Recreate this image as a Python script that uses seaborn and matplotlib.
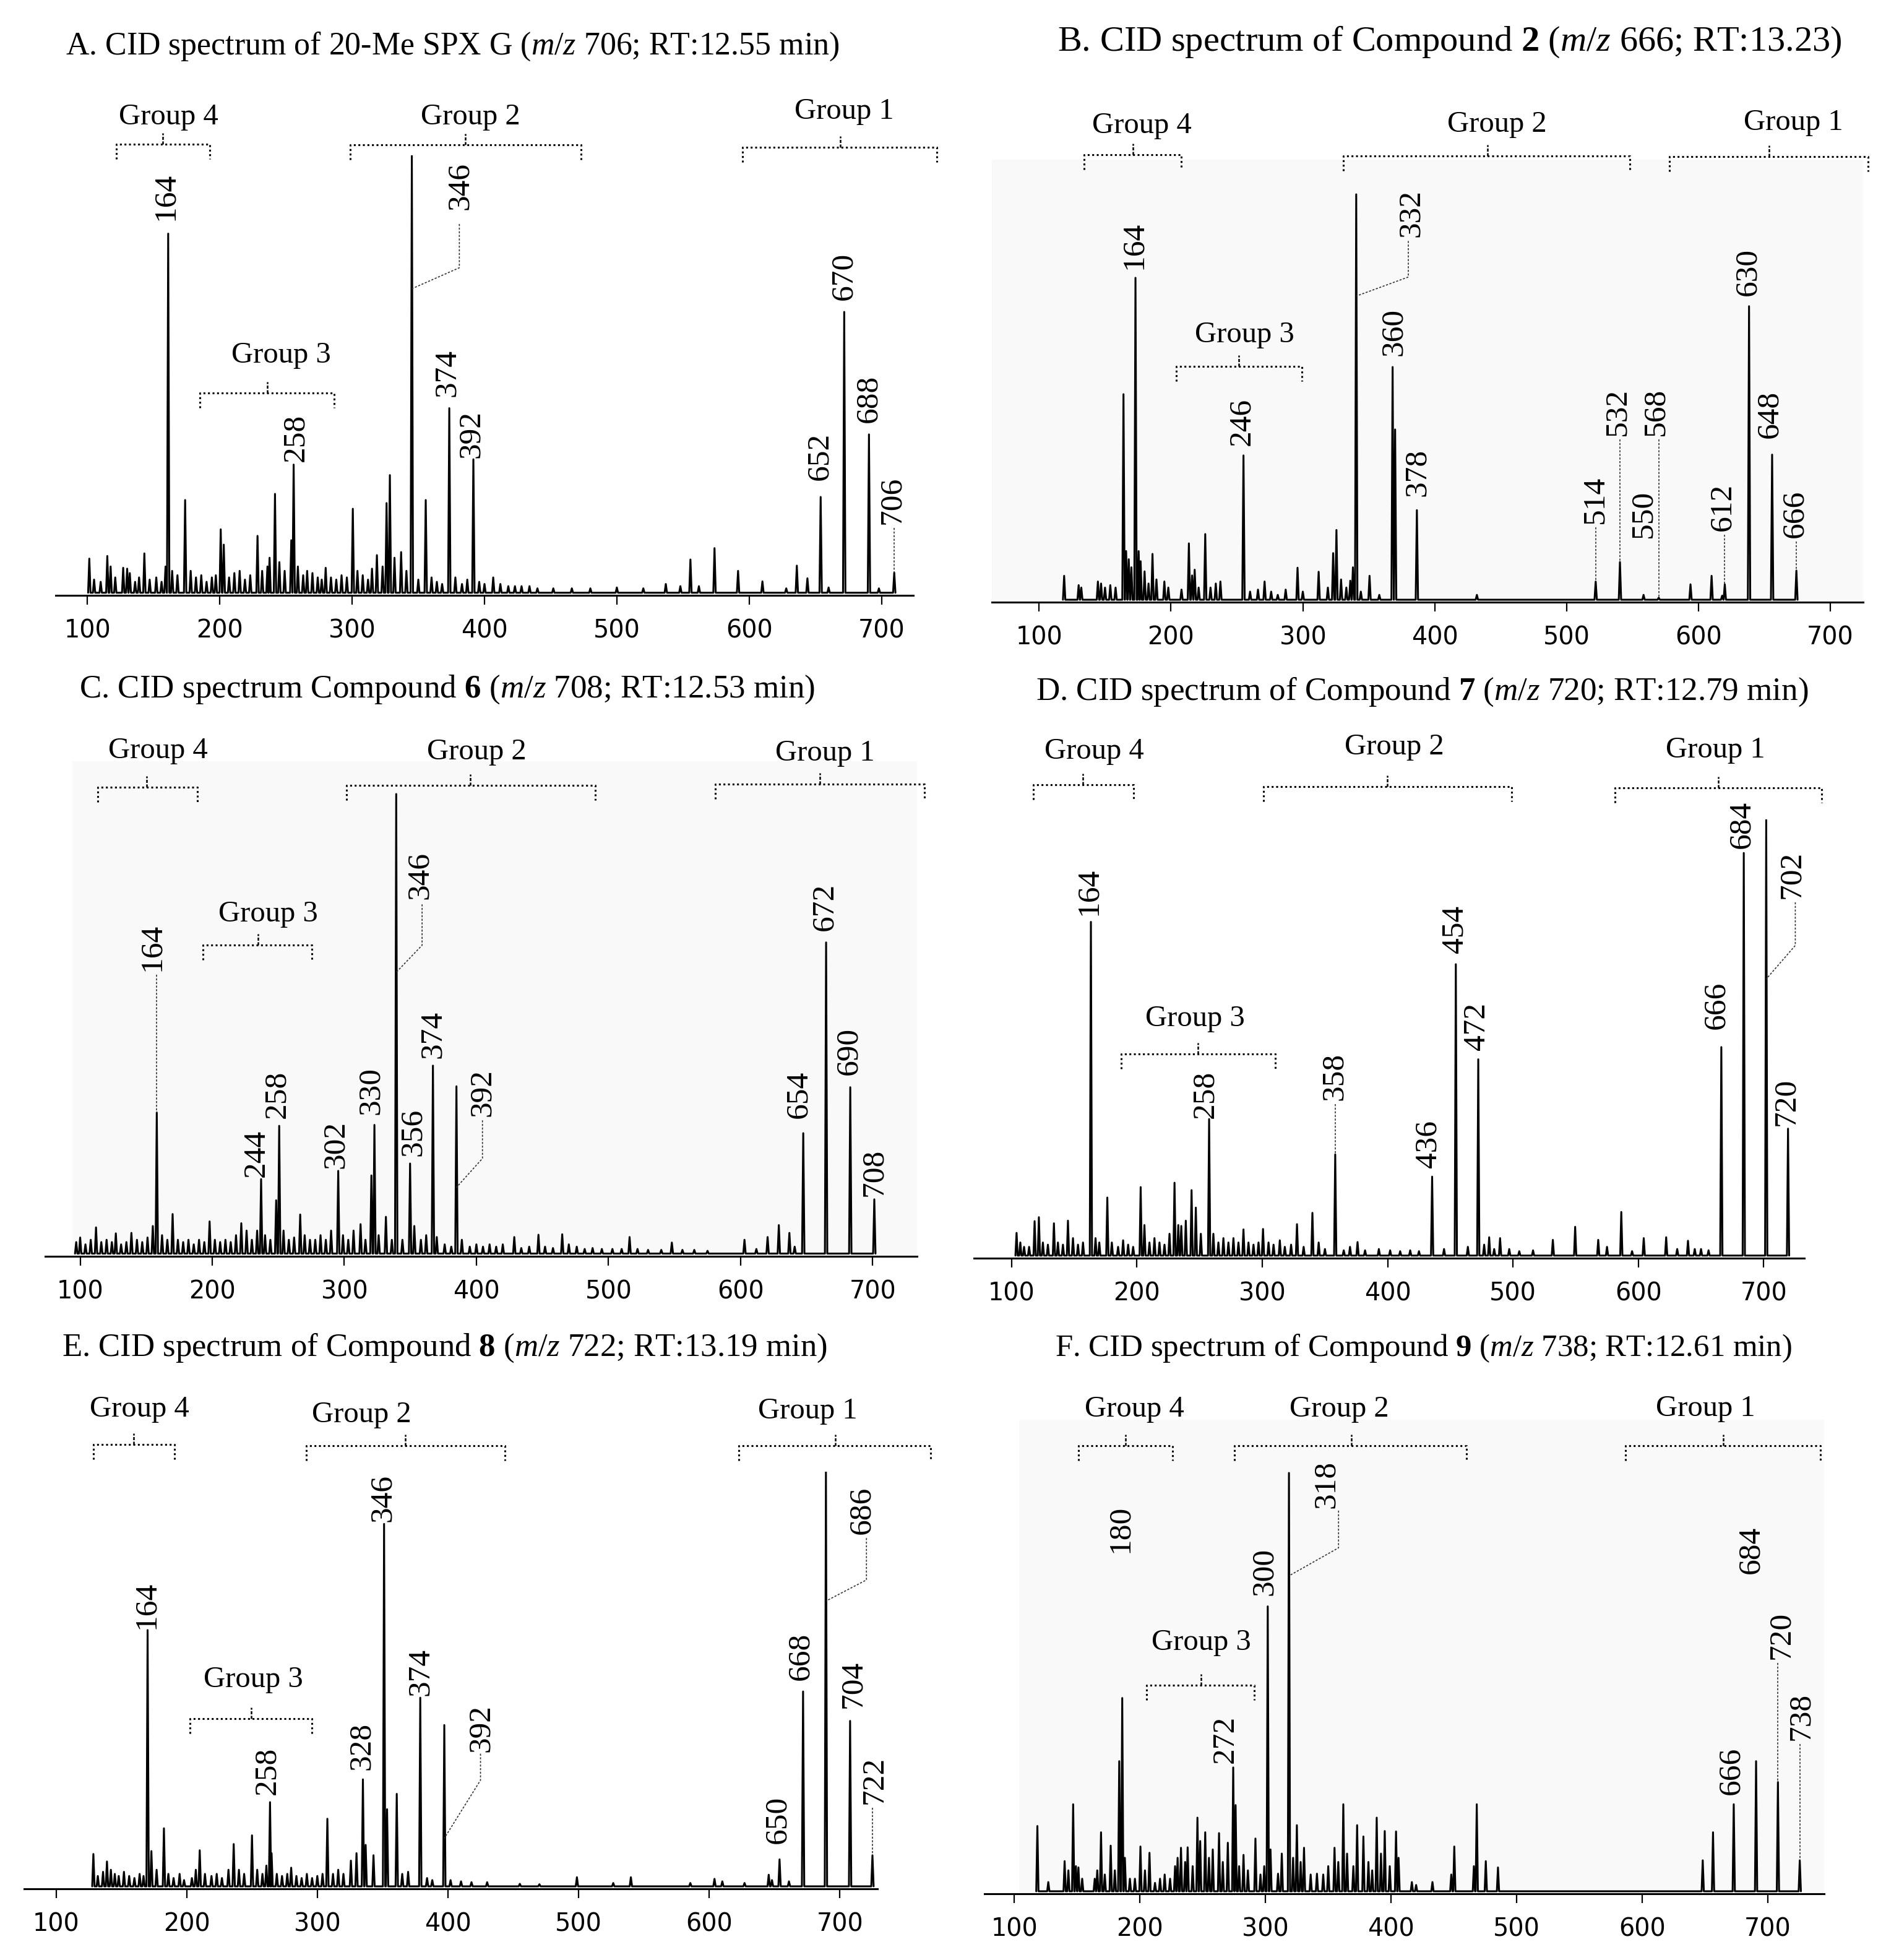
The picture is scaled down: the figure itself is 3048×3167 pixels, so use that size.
import numpy as np
import pandas as pd
import matplotlib
matplotlib.use("Agg")
import matplotlib.pyplot as plt
import seaborn as sns

# ---------------- data ----------------
# labelled peaks: m/z position (as drawn), relative intensity (% of base peak), label text
a_labels = ["164", "258", "346", "374", "392", "652", "670", "688", "706"]
a_lab_mz = [161.0, 255.8, 345.1, 373.4, 391.6, 654.0, 671.8, 690.5, 709.6]
a_lab_int = [82.1, 29.3, 100, 42.2, 30.5, 21.9, 64.2, 36.2, 4.6]
a_minor_mz = [101.4, 105, 110, 115, 117.5, 121, 127, 130, 132, 136, 139, 143, 147, 152, 156, 159, 164, 168,
              173.8, 178, 182, 186, 190, 194, 197, 200.7, 203, 207, 211, 215, 219, 223, 228.5, 232, 236, 237.6,
              241.7, 245, 249, 254, 259, 263, 266, 270, 274, 277, 280, 284, 288, 292, 296, 300.5, 304, 308,
              312, 315, 318.7, 323, 326, 328.5, 332, 337, 341, 350, 355.6, 360, 364, 368, 378, 383, 387, 396,
              400, 406.6, 412, 418, 423, 428, 434, 440, 452, 466, 480, 500, 520, 537, 548, 555.6, 562, 573.8,
              591.6, 610, 628, 636, 644, 660, 698]
a_minor_int = [7.8, 3, 2.5, 8.4, 6, 3.5, 5.7, 5.5, 4.5, 2.5, 3.5, 9.0, 3, 3.5, 2.5, 6, 5, 4,
               21.2, 5, 3.5, 4, 2.5, 3.5, 4, 14.5, 11, 3.5, 4.5, 5, 3, 4, 13.0, 5, 6, 8.0,
               22.6, 7, 5, 12, 6, 4, 5, 4.5, 3.5, 3, 5.7, 3.5, 3, 4, 3.5, 19.2, 5, 4,
               3, 5.5, 8.6, 6, 20.5, 26.9, 8, 9.3, 5, 3, 21.2, 3.5, 2.5, 2, 3.5, 2, 3, 2.5,
               2, 3.5, 2, 1.5, 1.5, 1.5, 1.5, 1, 1, 1, 1, 1.2, 1, 2, 1.5, 7.6, 1.5, 10.2,
               5.0, 2.6, 1, 6.2, 3.3, 1.2, 1]

b_labels = ["164", "246", "332", "360", "378", "514", "532", "550", "568", "612", "630", "648", "666"]
b_lab_mz = [173.1, 255.0, 340.5, 368.1, 386.5, 522.1, 540.5, 558.4, 569.9, 620.0, 638.4, 655.9, 674.3]
b_lab_int = [79.4, 35.6, 100, 57.4, 22.1, 4.5, 9.3, 1.2, 0.5, 3.8, 72.4, 35.8, 7.2]
b_minor_mz = [119, 130, 132, 144.6, 147, 150, 154, 158, 164, 166, 168, 170, 175.5, 177, 180, 183, 186, 189,
              195, 198, 208, 213.6, 216, 218, 221, 226, 230, 234, 237.5, 260, 266, 271, 276, 281, 287, 296,
              300, 312, 319, 323, 325.5, 329, 333, 336, 338, 344, 350.6, 358, 370, 432, 594, 610, 618]
b_minor_int = [5.9, 3.6, 3, 4.5, 4, 3, 3.6, 3, 50.7, 12, 10, 8, 12, 9.5, 7, 4, 11.3, 5,
               4.5, 3, 2.5, 13.9, 6, 7.4, 3, 16.2, 3, 4, 4.5, 2, 2.5, 4.5, 2, 1.2, 2.5, 7.9,
               2, 6.9, 3, 11.5, 17.2, 5, 3, 4.7, 8, 2, 5.9, 1.2, 42, 1.2, 3.8, 5.9, 1]

c_labels = ["164", "244", "258", "302", "330", "346", "356", "374", "392", "654", "672", "690", "708"]
c_lab_mz = [158.0, 237.0, 250.7, 295.4, 322.8, 339.3, 349.8, 367.1, 384.9, 647.5, 664.8, 683.1, 701.3]
c_lab_int = [30.7, 16.2, 27.8, 18.0, 28.0, 100, 19.6, 40.9, 36.4, 26.2, 67.7, 36.2, 11.8]
c_minor_mz = [97, 100, 104, 108, 112, 116, 120, 124, 127, 131, 135, 138.8, 143, 147, 151, 155, 162, 166,
              170, 174, 178, 182, 186, 190, 194, 198, 202, 206, 210, 214, 218, 222, 226, 230, 234, 240, 244,
              248.4, 254, 258, 262, 266.6, 270, 274, 278, 282, 286, 290, 299, 303, 307, 312.3, 316, 320.5,
              326, 331.5, 336, 344, 353, 358, 362, 370, 376, 381, 389, 395, 400, 405, 410, 415, 420, 428.7,
              434, 440, 447, 452, 458, 465, 470, 476, 482, 488, 495, 503, 510, 516, 522, 530, 540, 548, 556,
              565, 575, 603, 612, 620.5, 629, 637, 641]
c_minor_int = [2.5, 3.5, 2, 3, 5.7, 2.5, 3, 2.5, 4.4, 2, 2.5, 4.5, 3, 2.5, 3.5, 6, 4, 3,
               8.6, 3, 2.5, 3, 2, 3, 2.5, 7.0, 3, 2.5, 3, 2.5, 4, 6.6, 5, 3, 5, 4, 3,
               11.6, 5, 3, 3.5, 8.5, 4, 3, 3, 4, 3, 5, 4, 3, 5, 6.4, 3, 17.0,
               4, 8.0, 3, 3, 6, 3, 4, 3.6, 2, 1.5, 3, 1.5, 2, 1.5, 2, 1.5, 2, 3.6,
               1.2, 1.5, 4.1, 1.5, 1.2, 4.2, 2, 1.5, 1, 1.2, 1, 1, 1, 3.6, 1, 0.8, 0.8, 2.4, 0.8,
               0.8, 0.6, 3.0, 1, 3.6, 6.2, 4.5, 1.5]

d_labels = ["164", "258", "358", "436", "454", "472", "666", "684", "702", "720"]
d_lab_mz = [163.3, 257.6, 358.2, 435.5, 454.4, 472.3, 666.2, 684.1, 702.0, 719.4]
d_lab_int = [76.5, 31.3, 23.2, 18.1, 66.8, 45.0, 47.8, 92.3, 100, 29.1]
d_minor_mz = [104, 107, 110, 114, 118.4, 121.8, 125, 129, 133.8, 137, 141, 145, 149, 153, 157, 167, 170,
              176.4, 180, 185, 189, 193, 197, 203, 206, 210, 214, 218, 222, 226, 230, 233, 235.4, 239,
              243.6, 247, 251, 261, 265, 269, 273, 277, 281, 285, 289, 293, 297, 300.6, 305, 309, 314,
              318, 323, 327.7, 333, 340, 345, 350, 365, 370, 376, 382, 393, 402, 410, 418, 425, 445,
              464, 477, 481, 485, 489.7, 497, 505, 516, 531.8, 549.6, 568, 575, 586.4, 595, 604.3,
              622.2, 631, 639.6, 645, 650, 656]
d_minor_int = [5.2, 3, 2, 2, 7.9, 8.8, 3, 2.5, 7.4, 3, 2.5, 8.0, 4, 2.5, 3, 4, 3,
               13.3, 3, 2, 3.5, 2.5, 2, 15.7, 7, 3, 4, 3, 2.5, 5, 16.7, 7, 6.8, 8,
               15.0, 11, 5, 5, 3, 4, 3, 4, 3, 6.0, 3, 2.5, 3, 6.1, 3, 2.5, 3.5,
               2, 2.5, 7.2, 2, 9.8, 3, 1.5, 1.2, 2, 3.1, 1.2, 1.5, 1.2, 1, 1.2, 1, 1.5,
               2, 2.5, 4.2, 1.5, 4.0, 1.5, 1, 1.2, 3.6, 6.6, 3.6, 2, 10.0, 1, 4.0,
               4.2, 1.5, 3.4, 1.5, 1.5, 1.2]

e_labels = ["164", "258", "328", "346", "374", "392", "650", "668", "686", "704", "722"]
e_lab_mz = [170.1, 263.8, 334.9, 351.1, 378.8, 397.2, 653.8, 671.8, 689.3, 707.8, 724.9]
e_lab_int = [61.8, 20.3, 25.8, 87.4, 45.5, 38.9, 6.5, 47.0, 100, 39.9, 7.5]
e_minor_mz = [128.6, 132, 136, 139, 142, 145, 148, 152, 156, 160, 164, 167, 173, 177, 182.6, 186, 190,
              194.6, 198, 204, 207, 210, 214, 219, 223, 227, 232, 236, 240, 244, 250, 254, 258, 261,
              265, 269, 273, 277, 280, 284, 288, 292, 296, 300, 304, 307.7, 312, 316, 320, 325.7, 330,
              337, 343, 353.4, 360.8, 365, 369.5, 384, 388, 402, 410, 418, 430, 455, 470, 498.7, 526.5,
              540, 585.5, 604, 610, 627, 645.5, 648, 661]
e_minor_int = [7.8, 2.5, 3.5, 6.0, 4, 3, 2.5, 3.5, 2.5, 2, 3, 2.5, 8.5, 4, 14.0, 3, 2,
               3.0, 1.5, 2, 4, 8.7, 3, 2.5, 3.0, 2, 4, 10.2, 4, 3, 12.3, 4, 3, 5,
               8, 3, 2.5, 3, 4.5, 2.5, 2, 3, 2, 2.5, 3, 16.3, 3, 4, 3, 6.2, 8,
               10, 7.5, 18.6, 22.3, 3, 3.5, 2, 1.5, 1.5, 1.2, 1, 1.0, 0.6, 0.5, 2.2, 0.8,
               2.2, 0.8, 1.8, 1.2, 0.8, 2.8, 1.5, 1.2]

f_labels = ["180", "272", "300", "318", "666", "684", "720", "738"]
f_lab_mz = [185.9, 274.3, 301.8, 318.7, 673.0, 690.8, 708.2, 725.6]
f_lab_int = [46.2, 29.6, 68.1, 100, 20.8, 31.1, 26.1, 7.4]
f_minor_mz = [118.3, 127, 140, 143, 146.8, 149, 151, 154, 164, 166, 169, 172, 176.7, 180, 183.5, 188, 192,
              196, 200.4, 204, 207.6, 212, 216, 219.7, 224, 228, 230, 232.7, 236, 238, 242, 245.8, 248,
              252, 255, 258, 263, 266, 270, 276.2, 279, 282.5, 286, 292, 296, 299, 304, 310, 313, 322,
              325, 328, 330.7, 336, 341, 346, 350, 355, 358, 362, 365, 370, 373, 378, 382, 385, 388.6,
              392, 395, 399, 404, 406, 416.6, 420, 433, 448, 450.4, 466, 468.3, 475.5, 485.2, 648.3, 656.5]
f_minor_int = [15.6, 2.2, 7.2, 5, 20.8, 6, 5.7, 3, 3, 5, 14.1, 4, 10.9, 5, 31.1, 8, 3,
               3, 10.7, 5, 9.2, 2, 3, 4.0, 3, 6, 8, 10.4, 7, 10.5, 6, 17.6, 12,
               14.1, 8, 10, 13.9, 7, 11.6, 20.6, 6, 8.7, 5, 12.6, 4, 6, 10, 4.2, 9, 8,
               15.8, 7, 10.4, 4, 4.2, 4, 6, 10.4, 7, 20.8, 9, 6, 15.8, 13.1, 7, 5, 17.6,
               9, 14.4, 6, 14.3, 8, 2.2, 1.5, 2.2, 4, 10.7, 6, 20.8, 7.2, 5.7, 7.4, 14.1]

titles = [
    r"A. CID spectrum of 20-Me SPX G ($\mathit{m/z}$ 706; RT:12.55 min)",
    r"B. CID spectrum of Compound $\mathbf{2}$ ($\mathit{m/z}$ 666; RT:13.23)",
    r"C. CID spectrum Compound $\mathbf{6}$ ($\mathit{m/z}$ 708; RT:12.53 min)",
    r"D. CID spectrum of Compound $\mathbf{7}$ ($\mathit{m/z}$ 720; RT:12.79 min)",
    r"E. CID spectrum of Compound $\mathbf{8}$ ($\mathit{m/z}$ 722; RT:13.19 min)",
    r"F. CID spectrum of Compound $\mathbf{9}$ ($\mathit{m/z}$ 738; RT:12.61 min)",
]
x_ticks = [100, 200, 300, 400, 500, 600, 700]

# ---------------- layout (pixels / data units) ----------------
W, H, DPI = 3048, 3167, 200
panels = [
    dict(data=(a_labels, a_lab_mz, a_lab_int, a_minor_mz, a_minor_int),
         box=(90, 1476, 962, 251), xlim=(76, 724), ytop=100, gray=None, title=(731, 75, 18.7),
         lab_x=[159.2, 257.2, 381.6, 372.0, 390.2, 653.5, 671.8, 690.5, 708.2],
         lab_y=[85.2, 30.0, 87.6, 44.8, 30.8, 25.7, 66.9, 38.9, 15.7],
         leaders={2: (381.0, 84.3, 74.3, 69.5), 8: None},
         groups=[("Group 4", 122, 192.5, 157, 102.6, 161.5, 108.8),
                 ("Group 2", 298.6, 473, 385.5, 102.4, 389.3, 108.8),
                 ("Group 1", 595, 741.6, 669, 101.9, 671.8, 110.0),
                 ("Group 3", 185, 286.5, 236, 45.7, 246.2, 54.3)]),
    dict(data=(b_labels, b_lab_mz, b_lab_int, b_minor_mz, b_minor_int),
         box=(1603, 3011, 973, 314), xlim=(64.2, 724.9), ytop=108.5, gray=64.2, title=(2343, 68, 21.0),
         lab_x=[172.2, 253.6, 382.3, 369.0, 386.9, 521.6, 538.6, 558.4, 567.6, 618.2, 637.5, 654.1, 673.4],
         lab_y=[81.6, 38.0, 89.4, 60.2, 25.5, 18.8, 40.4, 15.2, 40.4, 16.9, 74.9, 39.9, 15.2],
         leaders={2: (380.0, 88.5, 79.6, 74.9), 5: None, 6: None, 8: None, 9: None, 12: None},
         groups=[("Group 4", 134.0, 207.6, 171.3, 109.7, 177.7, 116.9),
                 ("Group 2", 330.8, 547.8, 440.3, 109.5, 447.1, 117.2),
                 ("Group 1", 578.2, 728.5, 653.6, 109.3, 672.0, 117.7),
                 ("Group 3", 203.9, 299.1, 251.3, 57.6, 255.9, 65.4)]),
    dict(data=(c_labels, c_lab_mz, c_lab_int, c_minor_mz, c_minor_int),
         box=(73, 1481.5, 2030, 1283), xlim=(73.5, 733.4), ytop=107.1, gray=94, title=(723, 1114, 19.1),
         lab_x=[154.3, 233.3, 249.3, 293.6, 320.1, 357.5, 352.0, 367.1, 404.6, 644.3, 663.9, 682.2, 701.3],
         lab_y=[61.5, 16.6, 29.4, 18.5, 30.3, 77.1, 21.2, 42.5, 29.8, 29.4, 70.3, 38.9, 12.5],
         leaders={0: None, 5: (358.9, 76.0, 67.1, 61.2), 8: (404.6, 29.0, 20.7, 14.4)},
         groups=[("Group 4", 113.2, 188.6, 150.2, 101.5, 158.9, 109.4),
                 ("Group 2", 301.8, 489.9, 395.4, 101.9, 400.0, 109.1),
                 ("Group 1", 580.8, 739.2, 660.2, 102.1, 663.9, 108.9),
                 ("Group 3", 193.1, 275.3, 234.7, 67.1, 242.5, 73.9)]),
    dict(data=(d_labels, d_lab_mz, d_lab_int, d_minor_mz, d_minor_int),
         box=(1574, 2916, 2033, 1324), xlim=(70.0, 732.4), ytop=100, gray=None, title=(2298, 1118, 19.1),
         lab_x=[161.9, 254.7, 357.7, 432.6, 453.4, 471.3, 662.3, 682.6, 722.7, 717.9],
         lab_y=[78.0, 31.5, 35.6, 20.1, 69.3, 47.1, 51.9, 93.3, 81.8, 29.7],
         leaders={2: None, 8: (725.2, 81.0, 71.1, 63.4)},
         groups=[("Group 4", 117.4, 197.2, 157.1, 107.9, 165.8, 115.6),
                 ("Group 2", 301.1, 498.9, 399.8, 107.5, 405.1, 116.6),
                 ("Group 1", 581.6, 746.0, 663.8, 107.3, 661.3, 115.9),
                 ("Group 3", 187.5, 310.3, 248.9, 46.2, 246.5, 54.3)]),
    dict(data=(e_labels, e_lab_mz, e_lab_int, e_minor_mz, e_minor_int),
         box=(39, 1418, 3052, 2378), xlim=(75.6, 728.7), ytop=100, gray=None, title=(718, 2178, 19.0),
         lab_x=[169.2, 261.5, 334.0, 350.1, 378.8, 425.4, 652.4, 670.0, 717.0, 710.1, 726.3],
         lab_y=[62.1, 22.1, 28.1, 87.9, 46.0, 32.4, 10.3, 49.7, 84.9, 43.0, 19.9],
         leaders={5: (424.9, 32.0, 25.6, 11.6), 8: (720.3, 84.0, 73.9, 68.8), 10: None},
         groups=[("Group 4", 128.6, 190.9, 159.5, 106.5, 164.1, 115.1),
                 ("Group 2", 291.5, 443.8, 367.2, 106.3, 334.0, 113.8),
                 ("Group 1", 622.4, 769.2, 696.3, 106.3, 675.5, 114.6),
                 ("Group 3", 202.5, 295.7, 249.5, 40.5, 250.9, 49.9)]),
    dict(data=(f_labels, f_lab_mz, f_lab_int, f_minor_mz, f_minor_int),
         box=(1590.5, 2948, 3060, 2380), xlim=(75.9, 745.0), ytop=112.7, gray=103.8, title=(2300, 2178, 18.3),
         lab_x=[184.5, 268.0, 299.4, 348.6, 671.0, 687.0, 711.1, 726.5],
         lab_y=[80.9, 30.6, 70.7, 91.6, 23.1, 75.9, 55.5, 36.1],
         leaders={3: (358.2, 91.0, 82.1, 75.4), 6: None, 7: None},
         groups=[("Group 4", 151.2, 226.0, 188.3, 106.5, 195.6, 115.2),
                 ("Group 2", 275.2, 460.1, 368.4, 106.5, 358.7, 115.2),
                 ("Group 1", 586.6, 742.0, 664.8, 106.5, 650.3, 115.4),
                 ("Group 3", 205.2, 291.1, 248.7, 49.2, 248.7, 59.5)]),
]

sns.set_theme(style="white")
plt.rcParams["font.family"] = ["DejaVu Sans"]
plt.rcParams["mathtext.fontset"] = "custom"
plt.rcParams["mathtext.rm"] = "Liberation Serif"
plt.rcParams["mathtext.it"] = "Liberation Serif:italic"
plt.rcParams["mathtext.bf"] = "Liberation Serif:bold"

SERIF = "Liberation Serif"
Y0 = 0.6          # zero line sits slightly above the axis line
HW = 0.9          # half width of a drawn peak (m/z units)

fig = plt.figure(figsize=(W / DPI, H / DPI), dpi=DPI)
fig.patch.set_facecolor("white")

for p in panels:
    labels, lab_mz, lab_int, minor_mz, minor_int = p["data"]
    left, right, spine_y, top_y = p["box"]
    unit = (spine_y - top_y) / (100 + Y0)   # pixels per intensity unit
    height = (p["ytop"] + Y0) * unit
    ax = fig.add_axes([left / W, 1 - spine_y / H, (right - left) / W, height / H])
    ax.set_xlim(*p["xlim"])
    ax.set_ylim(-Y0, p["ytop"])
    ax.set_facecolor("white")
    if p["gray"] is not None:
        ax.axvspan(p["gray"], p["xlim"][1], color="#f9f9f9", lw=0, zorder=0)

    # spectrum trace built from the stick list
    peaks = pd.DataFrame({"mz": list(lab_mz) + list(minor_mz),
                          "inten": list(lab_int) + list(minor_int)}).sort_values("mz")
    px, py = [], []
    for m, v in zip(peaks["mz"], peaks["inten"]):
        px += [m - HW, m, m + HW]
        py += [0, v, 0]
    trace = pd.DataFrame({"mz": px, "inten": py})
    sns.lineplot(data=trace, x="mz", y="inten", ax=ax, sort=False, estimator=None,
                 color="black", lw=1.1, zorder=3)

    # axes cosmetics
    for s in ["top", "right", "left"]:
        ax.spines[s].set_visible(False)
    ax.spines["bottom"].set_linewidth(1.1)
    ax.spines["bottom"].set_color("black")
    ax.spines["bottom"].set_position(("data", -Y0))
    ax.set_yticks([])
    ax.set_xticks(x_ticks)
    ax.tick_params(axis="x", direction="out", length=5.4, width=0.8, pad=8, labelsize=14.3,
                   colors="black", bottom=True)
    ax.set_xlabel("")
    ax.set_ylabel("")

    # peak labels and leader lines
    for i, txt in enumerate(labels):
        ax.text(p["lab_x"][i], p["lab_y"][i], txt, rotation=90, ha="center", va="bottom",
                family=SERIF, fontsize=18.5, color="black", clip_on=False, zorder=5)
        if i in p["leaders"]:
            k = p["leaders"][i]
            if k is None:
                ax.plot([lab_mz[i], lab_mz[i]], [p["lab_y"][i] - 6 / unit, lab_int[i]],
                        color="#333333", lw=0.6, ls=(0, (2, 1.5)), clip_on=False, zorder=4)
            else:
                kx, ktop, kmid, jy = k
                ax.plot([kx, kx, lab_mz[i]], [ktop, kmid, jy], color="#333333", lw=0.6,
                        ls=(0, (2, 1.5)), clip_on=False, zorder=4)

    # group brackets
    drop, tick = 24 / unit, 18 / unit
    for name, x0, x1, xc, yh, lx, ly in p["groups"]:
        ax.plot([x0, x0, x1, x1], [yh - drop, yh, yh, yh - drop], color="black", lw=1.1,
                ls=(0, (1, 1.4)), clip_on=False, zorder=4)
        ax.plot([xc, xc], [yh, yh + tick], color="black", lw=0.9, ls=(0, (2, 1)),
                clip_on=False, zorder=4)
        ax.text(lx, ly, name, ha="center", va="center", family=SERIF, fontsize=17.5,
                color="black", clip_on=False, zorder=5)

for p, t in zip(panels, titles):
    tx, ty, fs = p["title"]
    fig.text(tx / W, 1 - ty / H, t, ha="center", va="center", family=SERIF, fontsize=fs,
             color="black")

fig.savefig("out.png", dpi=DPI, facecolor="white")
